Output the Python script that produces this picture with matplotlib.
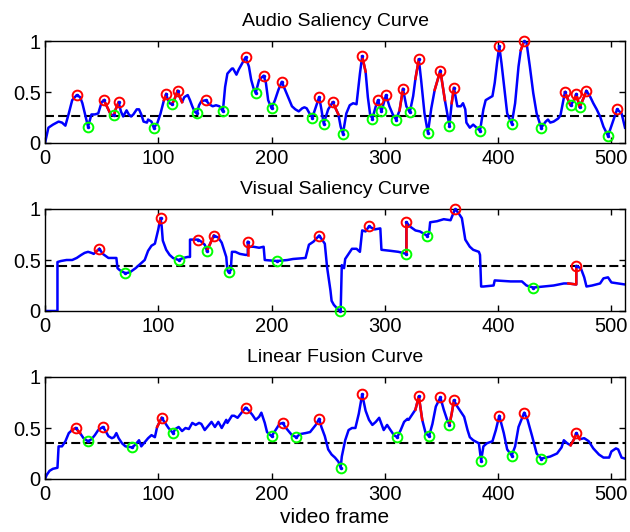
import matplotlib
matplotlib.use("Agg")
import matplotlib.pyplot as plt

plt.rcParams['font.family'] = ['Liberation Sans', 'DejaVu Sans']

# ---------------- Audio saliency: (frame, value) vertices ----------------
audio_curve = [
    (0, 0.0), (3, 0.15), (7, 0.18), (12, 0.21), (15, 0.20), (18, 0.17), (21, 0.29), (24, 0.42),
    (28, 0.47), (31, 0.45), (33, 0.39), (36, 0.25), (38, 0.16), (41, 0.28), (44, 0.28), (47, 0.29),
    (50, 0.40), (52, 0.42), (55, 0.35), (58, 0.28), (61, 0.27), (62, 0.32), (65, 0.40), (67, 0.31),
    (69, 0.26), (72, 0.32), (74, 0.28), (76, 0.26), (78, 0.28), (81, 0.33), (83, 0.33), (85, 0.28),
    (87, 0.21), (90, 0.20), (91, 0.23), (94, 0.21), (96, 0.15), (99, 0.19), (102, 0.29), (105, 0.42),
    (107, 0.48), (108, 0.44), (110, 0.39), (112, 0.38), (114, 0.42), (117, 0.51), (119, 0.45),
    (121, 0.40), (123, 0.45), (126, 0.47), (128, 0.42), (130, 0.36), (132, 0.31), (134, 0.29),
    (136, 0.37), (138, 0.41), (142, 0.42), (145, 0.38), (148, 0.36), (151, 0.37), (154, 0.36),
    (157, 0.31), (159, 0.55), (161, 0.68), (165, 0.73), (166, 0.73), (169, 0.67), (171, 0.72),
    (174, 0.78), (177, 0.84), (180, 0.75), (182, 0.62), (184, 0.54), (186, 0.49), (189, 0.62),
    (193, 0.66), (195, 0.59), (197, 0.42), (200, 0.34), (203, 0.42), (206, 0.52), (209, 0.60),
    (212, 0.52), (215, 0.44), (218, 0.36), (221, 0.33), (224, 0.31), (227, 0.34), (229, 0.35),
    (231, 0.34), (234, 0.28), (236, 0.25), (239, 0.35), (242, 0.45), (244, 0.33), (246, 0.19),
    (250, 0.33), (254, 0.40), (259, 0.28), (261, 0.16), (263, 0.09), (266, 0.29), (269, 0.37),
    (272, 0.39), (275, 0.38), (278, 0.68), (280, 0.85), (283, 0.70), (285, 0.45), (287, 0.28),
    (289, 0.24), (292, 0.36), (294, 0.42), (297, 0.31), (301, 0.47), (304, 0.36), (307, 0.28),
    (310, 0.23), (313, 0.32), (316, 0.53), (319, 0.36), (322, 0.30), (325, 0.46), (327, 0.63),
    (330, 0.82), (332, 0.62), (335, 0.29), (338, 0.10), (341, 0.34), (344, 0.52), (349, 0.71),
    (353, 0.42), (357, 0.17), (359, 0.39), (361, 0.54), (364, 0.36), (367, 0.36), (369, 0.39),
    (371, 0.33), (372, 0.20), (375, 0.15), (378, 0.18), (381, 0.15), (384, 0.12), (387, 0.33),
    (389, 0.42), (392, 0.44), (395, 0.46), (397, 0.59), (399, 0.78), (401, 0.95), (403, 0.78),
    (406, 0.49), (408, 0.29), (412, 0.19), (415, 0.39), (418, 0.75), (420, 0.91), (423, 1.0),
    (425, 0.99), (428, 0.75), (431, 0.49), (434, 0.29), (438, 0.15), (442, 0.21), (444, 0.23),
    (446, 0.20), (449, 0.21), (453, 0.24), (455, 0.27), (459, 0.50), (463, 0.39), (464, 0.37),
    (467, 0.42), (469, 0.48), (472, 0.35), (478, 0.51), (481, 0.46), (484, 0.39), (487, 0.33),
    (490, 0.26), (493, 0.16), (497, 0.07), (501, 0.20), (505, 0.33), (509, 0.29), (512, 0.15),
]
audio_peaks = [(28, 0.47), (52, 0.42), (65, 0.40), (107, 0.48), (117, 0.51), (142, 0.42),
               (177, 0.84), (193, 0.66), (209, 0.60), (242, 0.45), (254, 0.40), (280, 0.85),
               (294, 0.42), (301, 0.47), (316, 0.53), (330, 0.82), (349, 0.71), (361, 0.54),
               (401, 0.95), (423, 1.0), (459, 0.50), (469, 0.48), (478, 0.51), (505, 0.33)]
audio_valleys = [(38, 0.16), (61, 0.27), (96, 0.15), (112, 0.38), (134, 0.29), (157, 0.31),
                 (186, 0.49), (200, 0.34), (236, 0.25), (246, 0.19), (263, 0.09), (289, 0.24),
                 (297, 0.31), (310, 0.23), (322, 0.30), (338, 0.10), (357, 0.17), (384, 0.12),
                 (412, 0.19), (438, 0.15), (464, 0.37), (472, 0.35), (497, 0.07)]
audio_red = [(52, 58), (61, 65), (105, 107), (112, 117), (117, 121), (254, 259), (280, 283),
             (313, 316), (327, 330), (344, 353), (359, 361), (420, 423), (459, 464), (467, 478)]
audio_thr = 0.26

# ---------------- Visual saliency ----------------
visual_curve = [
    (0, 0.0), (11, 0.0), (11, 0.48), (14, 0.49), (19, 0.50), (24, 0.50), (28, 0.52), (32, 0.55),
    (35, 0.57), (38, 0.58), (41, 0.57), (43, 0.56), (46, 0.59), (48, 0.61), (51, 0.56), (56, 0.52),
    (60, 0.52), (63, 0.52), (64, 0.42), (66, 0.40), (71, 0.37), (75, 0.38), (80, 0.42), (84, 0.46),
    (88, 0.50), (91, 0.59), (94, 0.64), (97, 0.66), (100, 0.80), (101, 0.86), (102, 0.91),
    (103, 0.83), (104, 0.69), (107, 0.60), (110, 0.55), (113, 0.52), (118, 0.50), (122, 0.52),
    (126, 0.53), (128, 0.53), (128, 0.70), (132, 0.70), (135, 0.70), (138, 0.68), (141, 0.65),
    (143, 0.59), (145, 0.64), (149, 0.74), (153, 0.72), (156, 0.67), (158, 0.60), (160, 0.53),
    (161, 0.40), (162, 0.38), (164, 0.40), (165, 0.58), (168, 0.58), (172, 0.56), (177, 0.55),
    (179, 0.55), (179, 0.68), (180, 0.62), (181, 0.63), (184, 0.63), (189, 0.62), (193, 0.63),
    (194, 0.50), (205, 0.49), (214, 0.50), (219, 0.51), (230, 0.52), (233, 0.65), (237, 0.68),
    (242, 0.74), (247, 0.66), (249, 0.43), (252, 0.20), (253, 0.10), (255, 0.06), (260, 0.0),
    (261, 0.0), (262, 0.45), (264, 0.42), (265, 0.51), (268, 0.56), (271, 0.61), (275, 0.61),
    (278, 0.58), (280, 0.79), (283, 0.78), (286, 0.83), (291, 0.80), (296, 0.81), (297, 0.60),
    (305, 0.59), (312, 0.58), (319, 0.56), (319, 0.87), (322, 0.83), (327, 0.79), (331, 0.78),
    (337, 0.74), (339, 0.76), (340, 0.87), (346, 0.88), (352, 0.90), (358, 0.89), (362, 1.0),
    (365, 0.96), (368, 0.91), (371, 0.70), (375, 0.63), (378, 0.60), (383, 0.58), (384, 0.55),
    (385, 0.24), (387, 0.24), (396, 0.25), (397, 0.30), (411, 0.29), (421, 0.29), (425, 0.25),
    (431, 0.23), (440, 0.24), (449, 0.25), (458, 0.27), (462, 0.27), (469, 0.26), (469, 0.44),
    (473, 0.42), (476, 0.33), (478, 0.24), (483, 0.25), (490, 0.27), (493, 0.32), (497, 0.33),
    (500, 0.28), (506, 0.27), (512, 0.26),
]
visual_peaks = [(48, 0.61), (102, 0.91), (135, 0.70), (149, 0.74), (179, 0.68), (242, 0.74),
                (286, 0.83), (319, 0.87), (362, 1.0), (469, 0.44)]
visual_valleys = [(71, 0.37), (118, 0.50), (143, 0.59), (162, 0.38), (205, 0.49), (260, 0.0),
                  (319, 0.56), (337, 0.74), (431, 0.23)]
visual_red = [(46, 48), (101, 102), (143, 149), (179, 179), (319, 319), (462, 469)]
visual_thr = 0.44

# ---------------- Linear fusion ----------------
fusion_curve = [
    (0, 0.0), (1.5, 0.04), (4, 0.08), (7, 0.10), (11, 0.11), (12, 0.32), (15, 0.32), (18, 0.37),
    (21, 0.45), (24, 0.48), (27, 0.50), (31, 0.45), (34, 0.40), (38, 0.37), (41, 0.39), (44, 0.43),
    (47, 0.48), (51, 0.51), (53, 0.48), (56, 0.42), (59, 0.40), (61, 0.41), (63, 0.45), (65, 0.40),
    (68, 0.35), (71, 0.32), (77, 0.31), (80, 0.34), (83, 0.38), (85, 0.32), (88, 0.36), (91, 0.40),
    (94, 0.43), (97, 0.41), (99, 0.51), (103, 0.60), (106, 0.55), (109, 0.50), (113, 0.45),
    (115, 0.49), (118, 0.51), (121, 0.47), (124, 0.50), (127, 0.49), (130, 0.55), (133, 0.53),
    (136, 0.55), (138, 0.54), (141, 0.48), (144, 0.52), (147, 0.56), (150, 0.51), (153, 0.56),
    (156, 0.50), (160, 0.58), (161, 0.55), (165, 0.62), (167, 0.62), (170, 0.60), (177, 0.70),
    (180, 0.67), (183, 0.63), (186, 0.58), (189, 0.61), (191, 0.65), (194, 0.55), (196, 0.46),
    (200, 0.42), (203, 0.47), (207, 0.54), (210, 0.55), (212, 0.51), (215, 0.47), (218, 0.43),
    (222, 0.41), (225, 0.44), (230, 0.45), (234, 0.46), (239, 0.53), (242, 0.59), (244, 0.51),
    (247, 0.42), (250, 0.29), (253, 0.24), (256, 0.21), (259, 0.17), (261, 0.11), (262, 0.22),
    (265, 0.38), (268, 0.48), (271, 0.50), (274, 0.50), (277, 0.64), (280, 0.83), (283, 0.67),
    (286, 0.58), (289, 0.53), (292, 0.56), (295, 0.60), (297, 0.54), (299, 0.48), (302, 0.53),
    (305, 0.48), (308, 0.43), (311, 0.41), (314, 0.48), (317, 0.56), (320, 0.59), (321, 0.58),
    (324, 0.63), (327, 0.68), (330, 0.81), (333, 0.58), (336, 0.45), (339, 0.42), (342, 0.54),
    (345, 0.71), (349, 0.80), (352, 0.68), (355, 0.58), (357, 0.53), (359, 0.64), (361, 0.77),
    (364, 0.71), (367, 0.66), (370, 0.61), (373, 0.48), (375, 0.41), (378, 0.38), (383, 0.35),
    (385, 0.18), (387, 0.32), (390, 0.35), (395, 0.37), (398, 0.48), (401, 0.62), (405, 0.45),
    (408, 0.29), (412, 0.23), (415, 0.32), (418, 0.51), (423, 0.65), (426, 0.58), (430, 0.42),
    (434, 0.25), (438, 0.20), (442, 0.21), (446, 0.22), (452, 0.25), (456, 0.31), (458, 0.38),
    (461, 0.35), (464, 0.33), (467, 0.39), (469, 0.45), (472, 0.39), (476, 0.40), (480, 0.37),
    (484, 0.30), (489, 0.24), (493, 0.21), (498, 0.21), (500, 0.27), (504, 0.30), (506, 0.29),
    (509, 0.21), (512, 0.20),
]
fusion_peaks = [(27, 0.50), (51, 0.51), (103, 0.60), (177, 0.70), (210, 0.55), (242, 0.59),
                (280, 0.83), (330, 0.81), (349, 0.80), (361, 0.77), (401, 0.62), (423, 0.65),
                (469, 0.45)]
fusion_valleys = [(38, 0.37), (77, 0.31), (113, 0.45), (200, 0.42), (222, 0.41), (261, 0.11),
                  (311, 0.41), (339, 0.42), (357, 0.53), (385, 0.18), (412, 0.23), (438, 0.20)]
fusion_red = [(24, 31), (99, 103), (327, 333), (357, 361), (464, 472)]
fusion_thr = 0.35

titles = ["Audio Saliency Curve", "Visual Saliency Curve", "Linear Fusion Curve"]
x_ticks = [0, 100, 200, 300, 400, 500]
y_ticks = [0, 0.5, 1]
y_ticklabels = ["0", "0.5", "1"]

panels = [
    (audio_curve, audio_peaks, audio_valleys, audio_red, audio_thr),
    (visual_curve, visual_peaks, visual_valleys, visual_red, visual_thr),
    (fusion_curve, fusion_peaks, fusion_valleys, fusion_red, fusion_thr),
]

fig = plt.figure(figsize=(6.3, 5.32), dpi=100)
W, H = 630, 532
boxes = [(45, 41, 625, 143), (45, 209, 625, 311), (45, 377, 625, 479)]

for i, (box, panel, title) in enumerate(zip(boxes, panels, titles)):
    l, t, r, b = box
    ax = fig.add_axes([l / W, 1 - b / H, (r - l) / W, (b - t) / H])
    curve, peaks, valleys, red, thr = panel
    f = [p[0] for p in curve]
    v = [p[1] for p in curve]
    ax.plot(f, v, color=(0, 0, 1), lw=1.8, zorder=2, solid_joinstyle='round')
    for a, z in red:
        seg = [p for p in curve if a <= p[0] <= z]
        ax.plot([p[0] for p in seg], [p[1] for p in seg], color=(1, 0, 0), lw=1.8, zorder=3)
    ax.axhline(thr, color='black', lw=1.5, ls=(0, (4.3, 2.0)), zorder=1)
    pf = [p[0] for p in peaks]
    pv = [p[1] for p in peaks]
    vf = [p[0] for p in valleys]
    vv = [p[1] for p in valleys]
    ax.plot(pf, pv, 'o', ms=7, mfc='none', mec=(1, 0, 0), mew=1.4, zorder=4, clip_on=False)
    ax.plot(vf, vv, 'o', ms=7, mfc='none', mec=(0, 1, 0), mew=1.4, zorder=4, clip_on=False)
    ax.plot(pf + vf, pv + vv, '.', ms=3, color=(0, 0, 1), zorder=5, clip_on=False)
    ax.set_xlim(0, 512)
    ax.set_ylim(0, 1)
    ax.set_xticks(x_ticks)
    ax.set_xticklabels([str(x) for x in x_ticks])
    ax.set_yticks(y_ticks)
    ax.set_yticklabels(y_ticklabels)
    ax.tick_params(direction='in', top=True, right=True, length=4, width=1,
                   labelsize=14.5)
    ax.tick_params(axis='x', pad=4.5)
    ax.tick_params(axis='y', pad=3)
    for s in ax.spines.values():
        s.set_linewidth(1.0)
    ax.set_title(title, fontsize=14, pad=11)
    if i == 2:
        ax.set_xlabel("video frame", fontsize=15, labelpad=3)

fig.savefig("out.png", dpi=100)
